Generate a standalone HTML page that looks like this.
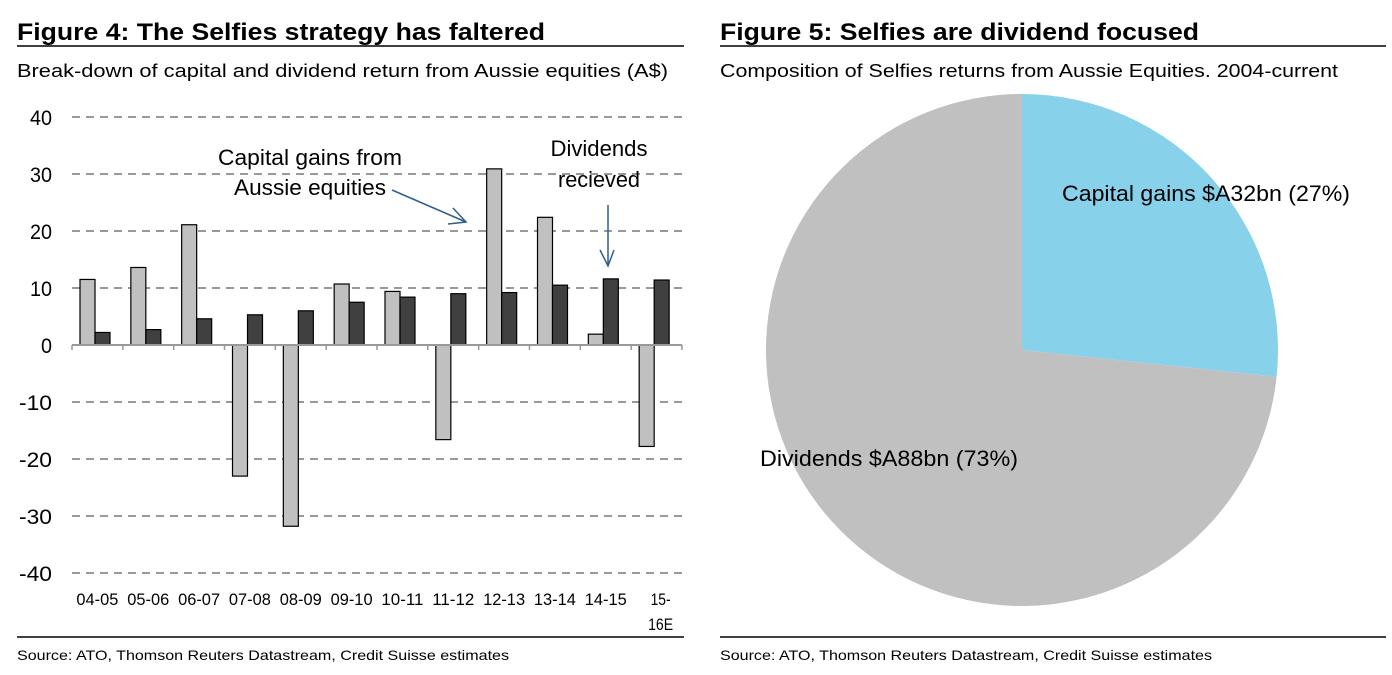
<!DOCTYPE html>
<html><head><meta charset="utf-8">
<style>
html,body{margin:0;padding:0;background:#fff;}
svg{display:block;font-family:"Liberation Sans",sans-serif;}
</style></head>
<body>
<svg id="s" width="1392" height="675" viewBox="0 0 1392 675">
  <text x="17" y="40" font-size="24" font-weight="bold" textLength="528" lengthAdjust="spacingAndGlyphs">Figure 4: The Selfies strategy has faltered</text>
  <line x1="17" y1="46" x2="684" y2="46" stroke="#000" stroke-width="1.5"/>
  <text x="17" y="77" font-size="18" textLength="651" lengthAdjust="spacingAndGlyphs">Break-down of capital and dividend return from Aussie equities (A$)</text>
  <line x1="17" y1="637" x2="684" y2="637" stroke="#000" stroke-width="1.5"/>
  <text x="17" y="660" font-size="14" textLength="492" lengthAdjust="spacingAndGlyphs">Source: ATO, Thomson Reuters Datastream, Credit Suisse estimates</text>

  <text x="720" y="40" font-size="24" font-weight="bold" textLength="479" lengthAdjust="spacingAndGlyphs">Figure 5: Selfies are dividend focused</text>
  <line x1="720" y1="46" x2="1386" y2="46" stroke="#000" stroke-width="1.5"/>
  <text x="720" y="77" font-size="18" textLength="618" lengthAdjust="spacingAndGlyphs">Composition of Selfies returns from Aussie Equities. 2004-current</text>
  <line x1="720" y1="637" x2="1386" y2="637" stroke="#000" stroke-width="1.5"/>
  <text x="720" y="660" font-size="14" textLength="492" lengthAdjust="spacingAndGlyphs">Source: ATO, Thomson Reuters Datastream, Credit Suisse estimates</text>

  <g id="bar"></g>
  <g id="pie"></g>
</svg>
<script>
const categories = ["04-05","05-06","06-07","07-08","08-09","09-10","10-11","11-12","12-13","13-14","14-15","15-16E"];
const capitalGains = [11.5,13.6,21.1,-23,-31.8,10.7,9.4,-16.6,30.9,22.4,1.9,-17.8];
const dividends = [2.2,2.7,4.6,5.3,6,7.5,8.4,9,9.2,10.5,11.6,11.4];
const yTicks = [40,30,20,10,0,-10,-20,-30,-40];
const pieLabels = ["Capital gains $A32bn (27%)","Dividends $A88bn (73%)"];
const pieValues = [32,88];

const NS="http://www.w3.org/2000/svg";
function mk(tag,attrs,parent,txt){const e=document.createElementNS(NS,tag);for(const k in attrs)e.setAttribute(k,attrs[k]);if(txt!==undefined)e.textContent=txt;parent.appendChild(e);return e;}

const bar=document.getElementById('bar');
const x0=72,x1=682,yTop=117,yBot=573,vMax=40,vMin=-40;
const y=v=>yTop+(vMax-v)/(vMax-vMin)*(yBot-yTop);
const cw=(x1-x0)/categories.length;
yTicks.forEach(t=>{
  if(t!==0){const g=mk('line',{x1:x0,x2:x1,y1:y(t),y2:y(t),stroke:'#999','stroke-width':2,'stroke-dasharray':'8 6'},bar);
  
  }
  const l=mk('text',{x:52,y:y(t)+8,'font-size':21,'text-anchor':'end',textLength:String(t).length*11,lengthAdjust:'spacingAndGlyphs'},bar,String(t));
  
  
});
categories.forEach((c,i)=>{
  const cx=x0+cw*i;
  const bw=15;
  const v1=capitalGains[i],v2=dividends[i];
  const r1=mk('rect',{x:cx+8,y:Math.min(y(v1),y(0)),width:bw,height:Math.abs(y(v1)-y(0)),fill:'#c0c0c0',stroke:'#000','stroke-width':1.2},bar);
  
  
  const r2=mk('rect',{x:cx+8+bw,y:Math.min(y(v2),y(0)),width:bw,height:Math.abs(y(v2)-y(0)),fill:'#404040',stroke:'#000','stroke-width':1.2},bar);
  
  
  const tk=mk('line',{x1:cx,x2:cx,y1:y(0),y2:y(0)+5,stroke:'#999','stroke-width':1.5},bar);
  
  
  const lx=cx+cw/2;
  if(c==="15-16E"){
    const a=mk('text',{x:lx+4,y:605,'font-size':17,'text-anchor':'middle',textLength:20,lengthAdjust:'spacingAndGlyphs'},bar,"15-");
    
    
    const b=mk('text',{x:lx+4,y:630,'font-size':17,'text-anchor':'middle',textLength:25,lengthAdjust:'spacingAndGlyphs'},bar,"16E");
    
    
  } else {
    const t=mk('text',{x:lx,y:605,'font-size':17,'text-anchor':'middle',textLength:42,lengthAdjust:'spacingAndGlyphs'},bar,c);
    
    
  }
});
const ax=mk('line',{x1:x0,x2:x1,y1:y(0),y2:y(0),stroke:'#999','stroke-width':2},bar);


const axr=mk('line',{x1:x1,x2:x1,y1:y(0),y2:y(0)+5,stroke:'#999','stroke-width':1.5},bar);


// annotations
const a1=mk('text',{x:310,y:165,'font-size':22,'text-anchor':'middle',textLength:184,lengthAdjust:'spacingAndGlyphs'},bar,"Capital gains from");


const a2=mk('text',{x:310,y:195,'font-size':22,'text-anchor':'middle',textLength:152,lengthAdjust:'spacingAndGlyphs'},bar,"Aussie equities");


const a3=mk('text',{x:599,y:156,'font-size':22,'text-anchor':'middle',textLength:97,lengthAdjust:'spacingAndGlyphs'},bar,"Dividends");


const a4=mk('text',{x:599,y:187,'font-size':22,'text-anchor':'middle',textLength:82,lengthAdjust:'spacingAndGlyphs'},bar,"recieved");


const ar1=mk('path',{d:'M392 190 L466 222 M453 208 L466 222 L448 224',fill:'none',stroke:'#2f5f8a','stroke-width':1.5},bar);


const ar2=mk('path',{d:'M608 205 L608 266 M600 250 L608 266 L614 250',fill:'none',stroke:'#2f5f8a','stroke-width':1.5},bar);



// pie
const pie=document.getElementById('pie');
const pcx=1022,pcy=350,pr=256;
const total=pieValues.reduce((a,b)=>a+b,0);
const colors=['#87d1ea','#c0c0c0'];
let ang=-Math.PI/2;
pieValues.forEach((v,i)=>{
  const a2=ang+v/total*2*Math.PI;
  const large=(a2-ang)>Math.PI?1:0;
  const d=`M${pcx} ${pcy} L${pcx+pr*Math.cos(ang)} ${pcy+pr*Math.sin(ang)} A${pr} ${pr} 0 ${large} 1 ${pcx+pr*Math.cos(a2)} ${pcy+pr*Math.sin(a2)} Z`;
  const s=mk('path',{d:d,fill:colors[i]},pie);
  
  
  ang=a2;
});
const p1=mk('text',{x:1062,y:201,'font-size':22,textLength:288,lengthAdjust:'spacingAndGlyphs'},pie,pieLabels[0]);


const p2=mk('text',{x:760,y:466,'font-size':22,textLength:258,lengthAdjust:'spacingAndGlyphs'},pie,pieLabels[1]);


</script>
</body></html>
